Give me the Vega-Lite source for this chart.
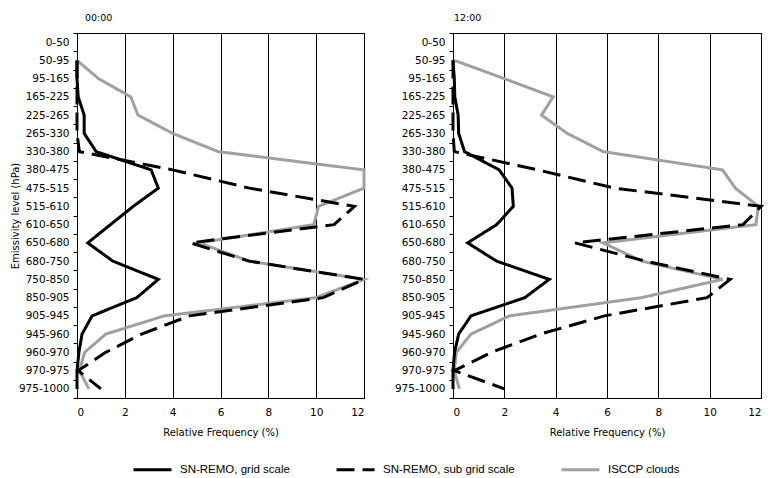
{
  "$schema": "https://vega.github.io/schema/vega-lite/v6.json",
  "background": "white",
  "padding": {"left": 9, "top": 12, "right": 5, "bottom": 5},
  "bounds": "flush",
  "spacing": 89,
  "config": {
    "font": "DejaVu Sans",
    "view": {"stroke": "#000", "strokeWidth": 1},
    "axis": {
      "labelFont": "DejaVu Sans", "labelFontSize": 10.5, "labelColor": "#000",
      "titleFont": "DejaVu Sans", "titleFontSize": 10, "titleFontWeight": "normal", "titleColor": "#000",
      "domainColor": "#000", "tickColor": "#000"
    },
    "title": {"font": "DejaVu Sans", "fontSize": 9.5, "fontWeight": "normal", "color": "#000", "anchor": "start", "frame": "group", "offset": 6},
    "legend": {
      "symbolType": "stroke", "symbolStrokeWidth": 3, "symbolSize": 1444,
      "labelFont": "Liberation Sans", "labelFontSize": 11.5, "labelColor": "#000",
      "columnPadding": 40, "labelOffset": 7
    }
  },
  "resolve": {"legend": {"color": "independent", "strokeDash": "independent"}},
  "datasets": {
    "t00": [
      {"level": "50-95", "series": "ISCCP clouds", "freq": 0},
      {"level": "95-165", "series": "ISCCP clouds", "freq": 0.9},
      {"level": "165-225", "series": "ISCCP clouds", "freq": 2.25},
      {"level": "225-265", "series": "ISCCP clouds", "freq": 2.55},
      {"level": "265-330", "series": "ISCCP clouds", "freq": 4.0},
      {"level": "330-380", "series": "ISCCP clouds", "freq": 5.9},
      {"level": "380-475", "series": "ISCCP clouds", "freq": 12},
      {"level": "475-515", "series": "ISCCP clouds", "freq": 12},
      {"level": "515-610", "series": "ISCCP clouds", "freq": 10.1},
      {"level": "610-650", "series": "ISCCP clouds", "freq": 9.9},
      {"level": "650-680", "series": "ISCCP clouds", "freq": 5.1},
      {"level": "680-750", "series": "ISCCP clouds", "freq": 7.2},
      {"level": "750-850", "series": "ISCCP clouds", "freq": 12},
      {"level": "850-905", "series": "ISCCP clouds", "freq": 10.0},
      {"level": "905-945", "series": "ISCCP clouds", "freq": 3.65},
      {"level": "945-960", "series": "ISCCP clouds", "freq": 1.2},
      {"level": "960-970", "series": "ISCCP clouds", "freq": 0.32},
      {"level": "970-975", "series": "ISCCP clouds", "freq": 0.1},
      {"level": "975-1000", "series": "ISCCP clouds", "freq": 0.5},

      {"level": "50-95", "series": "SN-REMO, sub grid scale", "freq": 0},
      {"level": "95-165", "series": "SN-REMO, sub grid scale", "freq": 0},
      {"level": "165-225", "series": "SN-REMO, sub grid scale", "freq": 0},
      {"level": "225-265", "series": "SN-REMO, sub grid scale", "freq": 0},
      {"level": "265-330", "series": "SN-REMO, sub grid scale", "freq": 0},
      {"level": "330-380", "series": "SN-REMO, sub grid scale", "freq": 0.1},
      {"level": "380-475", "series": "SN-REMO, sub grid scale", "freq": 4.0},
      {"level": "475-515", "series": "SN-REMO, sub grid scale", "freq": 7.2},
      {"level": "515-610", "series": "SN-REMO, sub grid scale", "freq": 11.6},
      {"level": "610-650", "series": "SN-REMO, sub grid scale", "freq": 10.75},
      {"level": "650-680", "series": "SN-REMO, sub grid scale", "freq": 4.75},
      {"level": "680-750", "series": "SN-REMO, sub grid scale", "freq": 7.2},
      {"level": "750-850", "series": "SN-REMO, sub grid scale", "freq": 12},
      {"level": "850-905", "series": "SN-REMO, sub grid scale", "freq": 10.3},
      {"level": "905-945", "series": "SN-REMO, sub grid scale", "freq": 4.7},
      {"level": "945-960", "series": "SN-REMO, sub grid scale", "freq": 2.7},
      {"level": "960-970", "series": "SN-REMO, sub grid scale", "freq": 1.2},
      {"level": "970-975", "series": "SN-REMO, sub grid scale", "freq": 0.05},
      {"level": "975-1000", "series": "SN-REMO, sub grid scale", "freq": 1.0},

      {"level": "50-95", "series": "SN-REMO, grid scale", "freq": 0},
      {"level": "95-165", "series": "SN-REMO, grid scale", "freq": 0},
      {"level": "165-225", "series": "SN-REMO, grid scale", "freq": 0.05},
      {"level": "225-265", "series": "SN-REMO, grid scale", "freq": 0.3},
      {"level": "265-330", "series": "SN-REMO, grid scale", "freq": 0.3},
      {"level": "330-380", "series": "SN-REMO, grid scale", "freq": 0.8},
      {"level": "380-475", "series": "SN-REMO, grid scale", "freq": 3.1},
      {"level": "475-515", "series": "SN-REMO, grid scale", "freq": 3.4},
      {"level": "515-610", "series": "SN-REMO, grid scale", "freq": 2.35},
      {"level": "610-650", "series": "SN-REMO, grid scale", "freq": 1.4},
      {"level": "650-680", "series": "SN-REMO, grid scale", "freq": 0.45},
      {"level": "680-750", "series": "SN-REMO, grid scale", "freq": 1.5},
      {"level": "750-850", "series": "SN-REMO, grid scale", "freq": 3.4},
      {"level": "850-905", "series": "SN-REMO, grid scale", "freq": 2.5},
      {"level": "905-945", "series": "SN-REMO, grid scale", "freq": 0.63},
      {"level": "945-960", "series": "SN-REMO, grid scale", "freq": 0.21},
      {"level": "960-970", "series": "SN-REMO, grid scale", "freq": 0.08},
      {"level": "970-975", "series": "SN-REMO, grid scale", "freq": 0},
      {"level": "975-1000", "series": "SN-REMO, grid scale", "freq": 0}
    ],
    "t12": [
      {"level": "50-95", "series": "ISCCP clouds", "freq": 0.05},
      {"level": "95-165", "series": "ISCCP clouds", "freq": 2.0},
      {"level": "165-225", "series": "ISCCP clouds", "freq": 3.9},
      {"level": "225-265", "series": "ISCCP clouds", "freq": 3.45},
      {"level": "265-330", "series": "ISCCP clouds", "freq": 4.45},
      {"level": "330-380", "series": "ISCCP clouds", "freq": 5.85},
      {"level": "380-475", "series": "ISCCP clouds", "freq": 10.5},
      {"level": "475-515", "series": "ISCCP clouds", "freq": 11.0},
      {"level": "515-610", "series": "ISCCP clouds", "freq": 11.9},
      {"level": "610-650", "series": "ISCCP clouds", "freq": 11.8},
      {"level": "650-680", "series": "ISCCP clouds", "freq": 5.85},
      {"level": "680-750", "series": "ISCCP clouds", "freq": 7.35},
      {"level": "750-850", "series": "ISCCP clouds", "freq": 10.5},
      {"level": "850-905", "series": "ISCCP clouds", "freq": 7.35},
      {"level": "905-945", "series": "ISCCP clouds", "freq": 2.2},
      {"level": "945-960", "series": "ISCCP clouds", "freq": 0.7},
      {"level": "960-970", "series": "ISCCP clouds", "freq": 0.13},
      {"level": "970-975", "series": "ISCCP clouds", "freq": 0.05},
      {"level": "975-1000", "series": "ISCCP clouds", "freq": 0.25},

      {"level": "50-95", "series": "SN-REMO, sub grid scale", "freq": 0},
      {"level": "95-165", "series": "SN-REMO, sub grid scale", "freq": 0},
      {"level": "165-225", "series": "SN-REMO, sub grid scale", "freq": 0},
      {"level": "225-265", "series": "SN-REMO, sub grid scale", "freq": 0},
      {"level": "265-330", "series": "SN-REMO, sub grid scale", "freq": 0},
      {"level": "330-380", "series": "SN-REMO, sub grid scale", "freq": 0.05},
      {"level": "380-475", "series": "SN-REMO, sub grid scale", "freq": 3.3},
      {"level": "475-515", "series": "SN-REMO, sub grid scale", "freq": 6.3},
      {"level": "515-610", "series": "SN-REMO, sub grid scale", "freq": 12},
      {"level": "610-650", "series": "SN-REMO, sub grid scale", "freq": 11.3},
      {"level": "650-680", "series": "SN-REMO, sub grid scale", "freq": 4.75},
      {"level": "680-750", "series": "SN-REMO, sub grid scale", "freq": 7.5},
      {"level": "750-850", "series": "SN-REMO, sub grid scale", "freq": 10.8},
      {"level": "850-905", "series": "SN-REMO, sub grid scale", "freq": 9.9},
      {"level": "905-945", "series": "SN-REMO, sub grid scale", "freq": 5.9},
      {"level": "945-960", "series": "SN-REMO, sub grid scale", "freq": 3.4},
      {"level": "960-970", "series": "SN-REMO, sub grid scale", "freq": 1.5},
      {"level": "970-975", "series": "SN-REMO, sub grid scale", "freq": 0.05},
      {"level": "975-1000", "series": "SN-REMO, sub grid scale", "freq": 2.0},

      {"level": "50-95", "series": "SN-REMO, grid scale", "freq": 0},
      {"level": "95-165", "series": "SN-REMO, grid scale", "freq": 0.05},
      {"level": "165-225", "series": "SN-REMO, grid scale", "freq": 0.07},
      {"level": "225-265", "series": "SN-REMO, grid scale", "freq": 0.2},
      {"level": "265-330", "series": "SN-REMO, grid scale", "freq": 0.22},
      {"level": "330-380", "series": "SN-REMO, grid scale", "freq": 0.45},
      {"level": "380-475", "series": "SN-REMO, grid scale", "freq": 1.8},
      {"level": "475-515", "series": "SN-REMO, grid scale", "freq": 2.3},
      {"level": "515-610", "series": "SN-REMO, grid scale", "freq": 2.35},
      {"level": "610-650", "series": "SN-REMO, grid scale", "freq": 1.7},
      {"level": "650-680", "series": "SN-REMO, grid scale", "freq": 0.57},
      {"level": "680-750", "series": "SN-REMO, grid scale", "freq": 1.7},
      {"level": "750-850", "series": "SN-REMO, grid scale", "freq": 3.75},
      {"level": "850-905", "series": "SN-REMO, grid scale", "freq": 2.8},
      {"level": "905-945", "series": "SN-REMO, grid scale", "freq": 0.7},
      {"level": "945-960", "series": "SN-REMO, grid scale", "freq": 0.22},
      {"level": "960-970", "series": "SN-REMO, grid scale", "freq": 0.06},
      {"level": "970-975", "series": "SN-REMO, grid scale", "freq": 0},
      {"level": "975-1000", "series": "SN-REMO, grid scale", "freq": 0}
    ]
  },
  "hconcat": [
    {
      "width": 287,
      "height": 365,
      "title": {"text": "00:00", "dx": 8},
      "data": {"name": "t00"},
      "mark": {"type": "line", "strokeWidth": 3, "strokeCap": "butt", "strokeJoin": "miter"},
      "encoding": {
        "y": {
          "field": "level", "type": "ordinal", "bandPosition": 0.5,
          "scale": {"type": "band", "paddingInner": 0, "paddingOuter": 0,
            "domain": ["0-50","50-95","95-165","165-225","225-265","265-330","330-380","380-475","475-515","515-610","610-650","650-680","680-750","750-850","850-905","905-945","945-960","960-970","970-975","975-1000"]},
          "axis": {"title": "Emissivity level (hPa)", "titleX": -57, "tickBand": "extent", "tickSize": 4, "labelPadding": 4, "grid": false}
        },
        "x": {
          "field": "freq", "type": "quantitative",
          "scale": {"domain": [0, 12], "nice": false},
          "axis": {"title": "Relative Frequency (%)", "values": [0, 2, 4, 6, 8, 10, 12], "grid": true, "gridColor": "#000", "gridOpacity": 1, "ticks": false, "labelPadding": 9, "titlePadding": 10}
        },
        "color": {
          "field": "series", "type": "nominal",
          "scale": {"domain": ["SN-REMO, grid scale", "SN-REMO, sub grid scale", "ISCCP clouds"], "range": ["#000000", "#000000", "#a0a0a0"]},
          "legend": {"title": null, "orient": "none", "direction": "horizontal", "legendX": 55, "legendY": 416}
        },
        "strokeDash": {
          "field": "series", "type": "nominal",
          "scale": {"domain": ["SN-REMO, grid scale", "SN-REMO, sub grid scale", "ISCCP clouds"], "range": [[1, 0], [18, 8], [1, 0]]},
          "legend": {"title": null, "orient": "none", "direction": "horizontal", "legendX": 55, "legendY": 416}
        },
        "order": {"value": null}
      }
    },
    {
      "width": 308,
      "height": 365,
      "title": {"text": "12:00", "dx": 1},
      "data": {"name": "t12"},
      "mark": {"type": "line", "strokeWidth": 3, "strokeCap": "butt", "strokeJoin": "miter"},
      "encoding": {
        "y": {
          "field": "level", "type": "ordinal", "bandPosition": 0.5,
          "scale": {"type": "band", "paddingInner": 0, "paddingOuter": 0,
            "domain": ["0-50","50-95","95-165","165-225","225-265","265-330","330-380","380-475","475-515","515-610","610-650","650-680","680-750","750-850","850-905","905-945","945-960","960-970","970-975","975-1000"]},
          "axis": {"title": null, "tickBand": "extent", "tickSize": 4, "labelPadding": 4, "grid": false}
        },
        "x": {
          "field": "freq", "type": "quantitative",
          "scale": {"domain": [0, 12], "nice": false},
          "axis": {"title": "Relative Frequency (%)", "values": [0, 2, 4, 6, 8, 10, 12], "grid": true, "gridColor": "#000", "gridOpacity": 1, "ticks": false, "labelPadding": 9, "titlePadding": 10}
        },
        "color": {
          "field": "series", "type": "nominal",
          "scale": {"domain": ["SN-REMO, grid scale", "SN-REMO, sub grid scale", "ISCCP clouds"], "range": ["#000000", "#000000", "#a0a0a0"]},
          "legend": null
        },
        "strokeDash": {
          "field": "series", "type": "nominal",
          "scale": {"domain": ["SN-REMO, grid scale", "SN-REMO, sub grid scale", "ISCCP clouds"], "range": [[1, 0], [18, 8], [1, 0]]},
          "legend": null
        },
        "order": {"value": null}
      }
    }
  ]
}
